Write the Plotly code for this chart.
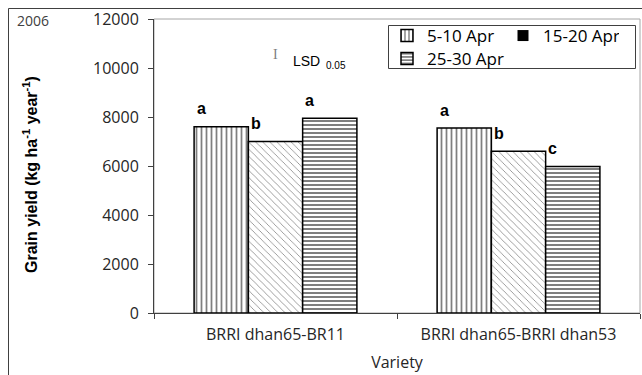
import plotly.graph_objects as go

# ---------------- data ----------------
varieties = ["BRRI dhan65-BR11", "BRRI dhan65-BRRI dhan53"]
dates = ["5-10 Apr", "15-20 Apr", "25-30 Apr"]
yield_5_10 = [7600, 7550]
yield_15_20 = [7000, 6600]
yield_25_30 = [7950, 5980]
letters_5_10 = ["a", "a"]
letters_15_20 = ["b", "b"]
letters_25_30 = ["a", "c"]
y_ticks = [0, 2000, 4000, 6000, 8000, 10000, 12000]
year_label = "2006"
y_title = "<b>Grain yield (kg ha<sup>-1</sup> year<sup>-1</sup>)</b>"
x_title = "Variety"

# ---------------- layout helpers ----------------
W, H = 642, 375
L, R, T, B = 154, 2, 19, 62
PW, PH = W - L - R, H - T - B


def px(x):
    return (x - L) / PW


def py(y):
    return (H - B - y) / PH


BARGAP = 0.33
DARK = "#404040"
TICKFONT = dict(family="Open Sans", size=16, color="#262626")

series = [
    (dates[0], yield_5_10, letters_5_10, dict(shape="|", size=5, solidity=0.35)),
    (dates[1], yield_15_20, letters_15_20, dict(shape="\\", size=5, solidity=0.15)),
    (dates[2], yield_25_30, letters_25_30, dict(shape="-", size=4, solidity=0.5)),
]
legend_of = ["legend", None, "legend2"]

fig = go.Figure()
for i, (name, vals, _, pat) in enumerate(series):
    fig.add_trace(go.Bar(
        name=name, x=varieties, y=vals,
        marker=dict(color="white",
                    line=dict(color="black", width=1.5),
                    pattern=dict(fgcolor="black", bgcolor="white",
                                 fillmode="overlay", **pat)),
        showlegend=legend_of[i] is not None,
        legend=legend_of[i] if legend_of[i] else "legend",
    ))

# legend proxy for 15-20 Apr (shown as a solid black square in the original)
fig.add_trace(go.Scatter(
    name=dates[1], x=[None], y=[None], mode="markers",
    marker=dict(symbol="square", size=11, color="black"),
    legend="legend", showlegend=True,
))

# significance letters
nser = len(series)
bw = (1 - BARGAP) / nser
annotations = []
for i, (name, vals, lets, _) in enumerate(series):
    for j, (v, let) in enumerate(zip(vals, lets)):
        xc = j - (1 - BARGAP) / 2 + bw * (i + 0.5)
        annotations.append(dict(
            x=xc, y=v, xref="x", yref="y", text=f"<b>{let}</b>",
            showarrow=False, xshift=-20, yshift=18,
            xanchor="center", yanchor="middle",
            font=dict(family="Liberation Sans", size=16, color="black"),
        ))


def note(x, y, text, font, xanchor="center", **kw):
    return dict(x=px(x), y=py(y), xref="paper", yref="paper", text=text,
                showarrow=False, xanchor=xanchor, yanchor="middle", font=font, **kw)


annotations += [
    note(33, 20, year_label, dict(family="Open Sans", size=14, color=DARK)),
    note(275, 54, "I", dict(family="Liberation Serif", size=14, color="#7f7f7f")),
    note(291, 61, "LSD", dict(family="Liberation Sans", size=14, color="black"), xanchor="left"),
    note(324, 66, "0.05", dict(family="Liberation Sans", size=10, color="black"), xanchor="left"),
    note(30, 175, y_title, dict(family="Liberation Sans", size=16, color="black"), textangle=-90),
]

shapes = [
    # plot-area frame (grey)
    dict(type="rect", xref="paper", yref="paper", x0=0, x1=1, y0=0, y1=1,
         line=dict(color="#a6a6a6", width=1), layer="below"),
    # outer chart border
    dict(type="rect", xref="paper", yref="paper", x0=px(8.5), x1=px(680),
         y0=py(400), y1=py(8.5), line=dict(color=DARK, width=1)),
    # legend box
    dict(type="rect", xref="paper", yref="paper", x0=px(388.5), x1=px(635.5),
         y0=py(68.5), y1=py(25.5), line=dict(color=DARK, width=1)),
]

fig.update_layout(
    width=W, height=H,
    margin=dict(l=L, r=R, t=T, b=B, pad=0),
    paper_bgcolor="white", plot_bgcolor="white",
    barmode="group", bargap=BARGAP, bargroupgap=0,
    font=dict(family="Open Sans", color="#262626"),
    annotations=annotations, shapes=shapes,
    legend=dict(orientation="h", x=px(387), y=py(18), xanchor="left", yanchor="top",
                entrywidth=71, bgcolor="rgba(0,0,0,0)", borderwidth=0,
                font=dict(family="Open Sans", size=17, color="black"),
                traceorder="normal"),
    legend2=dict(orientation="h", x=px(387), y=py(41), xanchor="left", yanchor="top",
                 bgcolor="rgba(0,0,0,0)", borderwidth=0,
                 font=dict(family="Open Sans", size=17, color="black")),
    xaxis=dict(
        type="category", tickson="boundaries", ticks="outside", ticklen=5,
        tickcolor=DARK, showline=True, linecolor=DARK, linewidth=1,
        showgrid=False, tickfont=TICKFONT, ticklabelstandoff=7,
        title=dict(text=x_title, font=dict(family="Open Sans", size=16, color="#262626"),
                   standoff=12),
    ),
    yaxis=dict(
        range=[0, 12000], tickvals=y_ticks, ticktext=[str(t) for t in y_ticks],
        ticks="outside", ticklen=5, tickcolor=DARK, showline=True, linecolor=DARK,
        linewidth=1, showgrid=False, zeroline=False, tickfont=TICKFONT,
        ticklabelstandoff=6,
    ),
)

fig.write_html("out.html")
